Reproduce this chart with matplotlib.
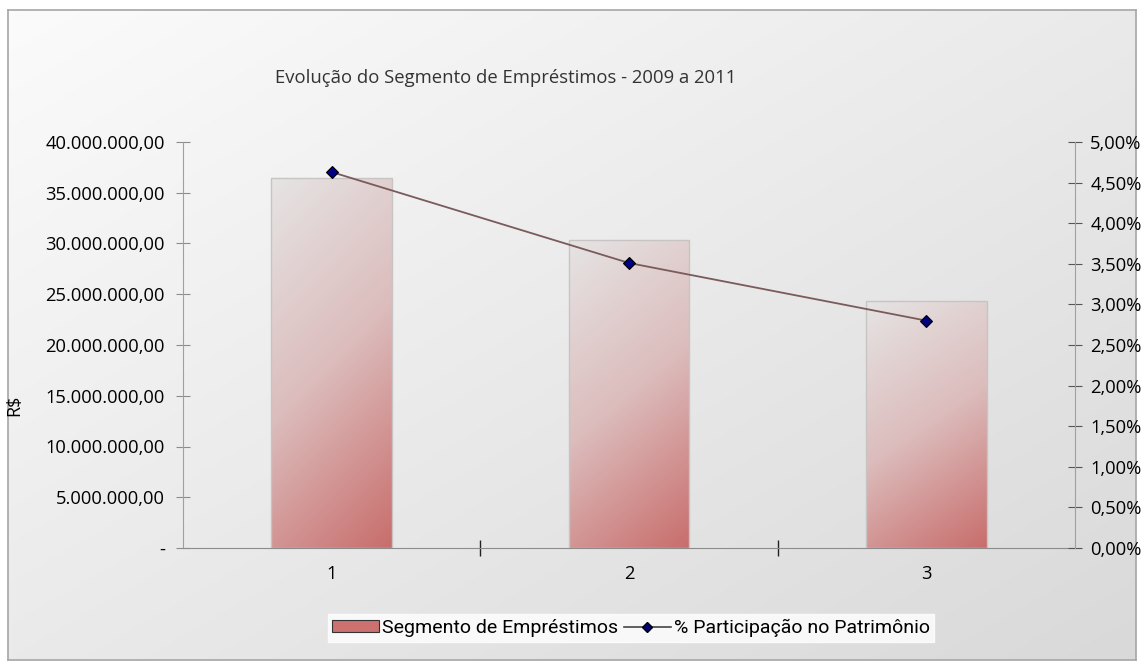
import matplotlib.pyplot as plt
import numpy as np
from matplotlib.colors import LinearSegmentedColormap
from matplotlib.patches import Rectangle
from matplotlib.lines import Line2D
from matplotlib.ticker import FuncFormatter
from matplotlib import font_manager

# data
categories = [1, 2, 3]
emprestimos = [36450000, 30300000, 24300000]          # R$
participacao = [4.63, 3.51, 2.80]                     # % do patrimônio

title = 'Evolução do Segmento de Empréstimos - 2009 a 2011'
bar_label = 'Segmento de Empréstimos'
line_label = '% Participação no Patrimônio'

plt.rcParams['font.family'] = ['Open Sans', 'DejaVu Sans']
names = {f.name for f in font_manager.fontManager.ttflist}
narrow = 'Liberation Sans Narrow' if 'Liberation Sans Narrow' in names else 'Roboto'

W, H = 1144, 669
fig = plt.figure(figsize=(W / 100, H / 100), dpi=100)

# gradient background inside the chart frame
bg = fig.add_axes([8 / W, 1 - 660 / H, 1128 / W, 650 / H], zorder=0)
gx, gy = np.meshgrid(np.linspace(0, 1, 200), np.linspace(0, 1, 200))
bg_cmap = LinearSegmentedColormap.from_list('bg', ['#fbfbfb', '#d9d9d9'])
bg.imshow((gx + gy) / 2, cmap=bg_cmap, aspect='auto', extent=(0, 1, 1, 0))
bg.set_xticks([])
bg.set_yticks([])
for s in bg.spines.values():
    s.set_color('#a6a6a6')
    s.set_linewidth(1.2)

ax = fig.add_axes([183 / W, 1 - 548 / H, 892 / W, 406 / H], zorder=1)
ax.patch.set_alpha(0)

# bars with gradient fill: light at top-left, red at bottom-right
bar_grad = 0.75 * gy + 0.25 * gx
bar_cmap = LinearSegmentedColormap.from_list('bar', ['#e6e4e4', '#dcbcbc', '#c86e6c'])
bars = ax.bar(categories, emprestimos, width=0.405, color='none', edgecolor='#c8c4c4',
              linewidth=1.0, zorder=3)
for rect in bars:
    x0, w, h = rect.get_x(), rect.get_width(), rect.get_height()
    img = ax.imshow(bar_grad, cmap=bar_cmap, aspect='auto',
                    extent=(x0, x0 + w, 0, h), origin='upper', zorder=2)
    img.set_clip_path(rect)

ax.set_xlim(0.5, 3.5)
ax.set_ylim(0, 40000000)
ax.set_yticks(np.arange(0, 40000001, 5000000))


def fmt_brl(v, pos):
    if v == 0:
        return '-'
    s = f'{v:,.2f}'
    return s.replace(',', 'X').replace('.', ',').replace('X', '.')


ax.yaxis.set_major_formatter(FuncFormatter(fmt_brl))
ax.set_xticks(categories)
ax.set_xticks([1.5, 2.5], minor=True)
ax.tick_params(axis='x', which='major', length=0, labelsize=13.2, pad=12)
ax.tick_params(axis='x', which='minor', length=12, direction='inout', color='#222222', width=1)
ax.tick_params(axis='y', length=10, direction='inout', color='#8c8c8c', labelsize=13.2, pad=8)
for side in ['top', 'right']:
    ax.spines[side].set_visible(False)
ax.spines['left'].set_color('#a0a0a0')
ax.spines['bottom'].set_color('#8c8c8c')

ax2 = ax.twinx()
ax2.set_zorder(2)
ax2.patch.set_alpha(0)
ax2.plot(categories, participacao, color='#7a5a5a', linewidth=1.3, marker='D',
         markersize=6, markerfacecolor='#000080', markeredgecolor='black',
         markeredgewidth=0.8, zorder=5)
ax2.set_ylim(0, 5)
ax2.set_yticks(np.arange(0, 5.01, 0.5))
ax2.yaxis.set_major_formatter(FuncFormatter(lambda v, p: f'{v:.2f}%'.replace('.', ',')))
ax2.tick_params(axis='y', length=10, direction='inout', color='#555555', labelsize=13.2, pad=6)
for side in ['top', 'left', 'bottom']:
    ax2.spines[side].set_visible(False)
ax2.spines['right'].set_color('#a0a0a0')

fig.text(275 / W, 1 - 78 / H, title, fontsize=13.3, color='#333333', va='center', ha='left')
fig.text(14 / W, 1 - 405 / H, 'R$', fontsize=13, rotation=90, va='center', ha='center')

handles = [Rectangle((0, 0), 1, 1, facecolor='#cd7070', edgecolor='#333333', linewidth=0.8),
           Line2D([], [], color='#444444', linewidth=1.2, marker='D', markersize=5,
                  markerfacecolor='#000080', markeredgecolor='black')]
leg = fig.legend(handles, [bar_label, line_label], loc='center', ncol=2,
                 bbox_to_anchor=(631 / W, 1 - 628 / H), frameon=True,
                 prop={'family': narrow, 'size': 14},
                 handlelength=2.4, handleheight=0.6, handletextpad=0.15, columnspacing=0.3,
                 borderpad=0.25, fancybox=False)
leg.get_frame().set_facecolor('white')
leg.get_frame().set_edgecolor('white')

fig.savefig('out.png', dpi=100)
